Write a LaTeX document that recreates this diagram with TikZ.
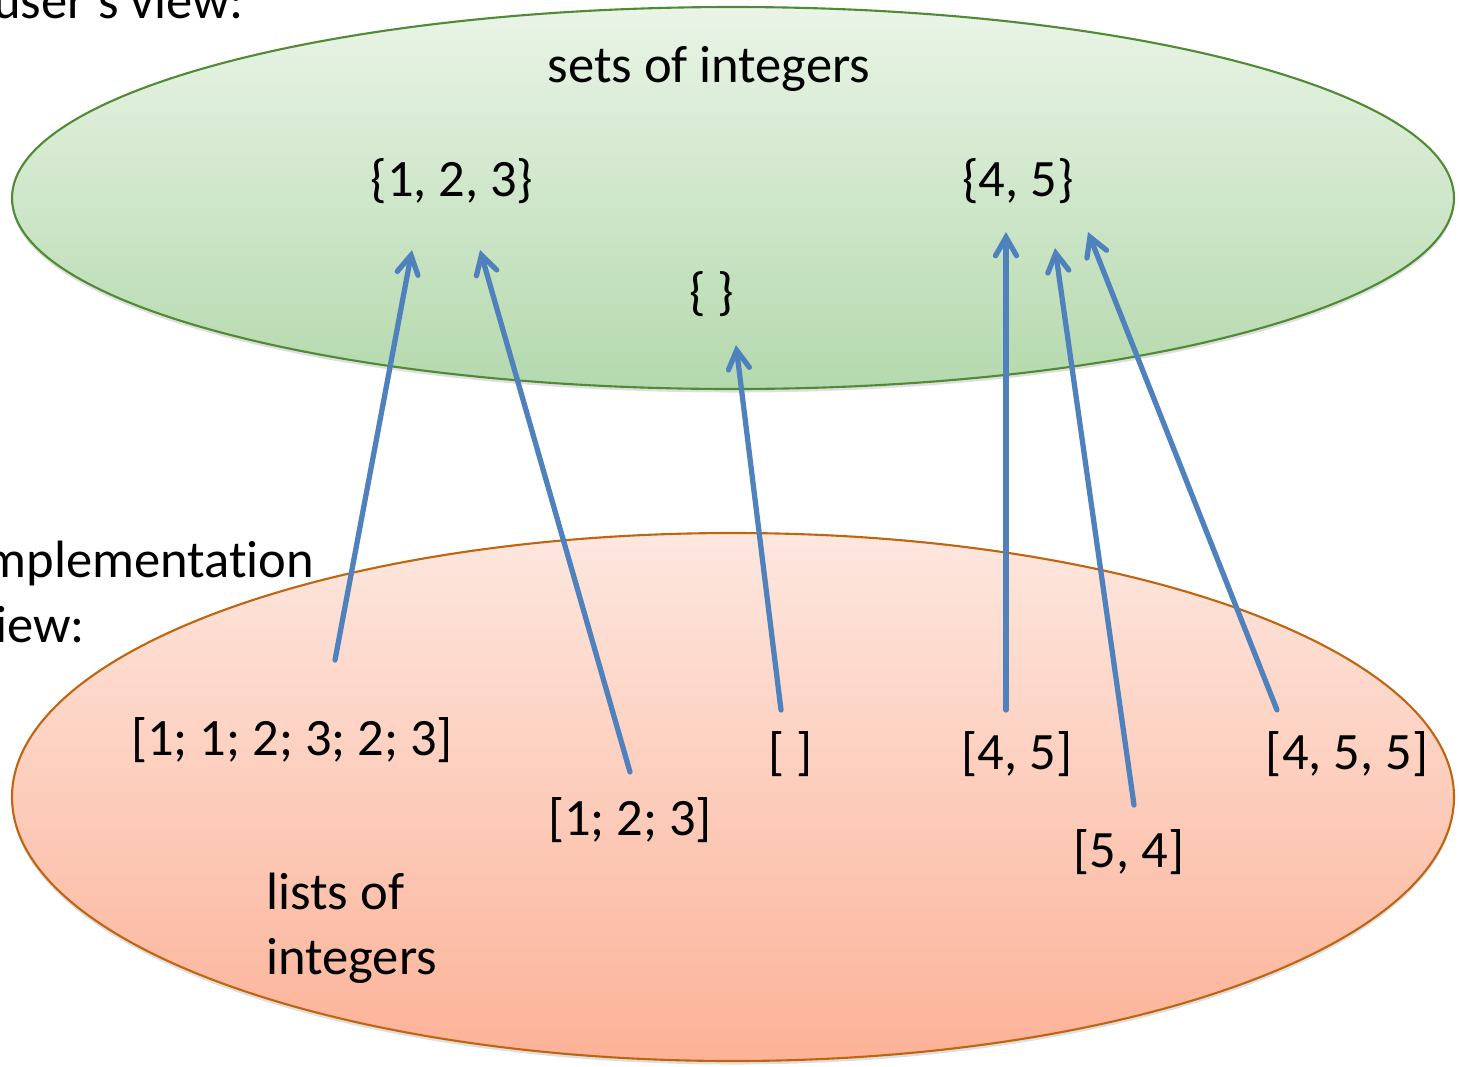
\documentclass[tikz,border=0pt]{standalone}
\usepackage{fontspec}
\setmainfont{Carlito}[Ligatures=NoCommon]
\usetikzlibrary{arrows.meta,shadows}

\begin{document}
\begin{tikzpicture}[x=0.02cm, y=-0.02cm, font=\fontsize{29.9}{36.5}\selectfont]
    \definecolor{setBorder}{HTML}{4F8A34}
    \definecolor{setTop}{HTML}{EAF4E7}
    \definecolor{setBottom}{HTML}{B4D9AD}
    \definecolor{listBorder}{HTML}{C0650E}
    \definecolor{listTop}{HTML}{FDE7DF}
    \definecolor{listBottom}{HTML}{FCB297}
    \definecolor{arrowColour}{HTML}{4F81BD}

    \tikzset{
        mapArrow/.style={draw=arrowColour, line width=3pt, line cap=round,
            -{Straight Barb[length=10.5pt, width=12pt, line cap=round]}},
        blobShadow/.style={drop shadow={shadow xshift=0pt, shadow yshift=-2pt, opacity=0.25}}
    }

    \useasboundingbox (0,0) rectangle (1460,1066);

    % Draw the two views
    \draw[blobShadow, draw=setBorder, line width=1.2pt, top color=setTop, bottom color=setBottom]
        (733,198) ellipse [x radius=721, y radius=191];
    \draw[blobShadow, draw=listBorder, line width=1.2pt, top color=listTop, bottom color=listBottom]
        (733,797) ellipse [x radius=721, y radius=264];

    % Side labels
    \node[anchor=base west, inner sep=0pt] (userView) at (-7,18) {user's view:};
    \node[anchor=base west, inner sep=0pt, align=left] (implView) at (-29,642) {Implementation\\view:};

    % Sets
    \node[anchor=base, inner sep=0pt] (setTitle) at (709,82) {sets of integers};
    \node[anchor=base, inner sep=0pt] (setA) at (452,196) {\{1, 2, 3\}};
    \node[anchor=base, inner sep=0pt] (setB) at (1018,196) {\{4, 5\}};
    \node[anchor=base, inner sep=0pt] (setEmpty) at (712,309) {\{ \}};

    % Lists
    \node[anchor=base, inner sep=0pt] (listA) at (292,755) {[1; 1; 2; 3; 2; 3]};
    \node[anchor=base, inner sep=0pt] (listB) at (630,835) {[1; 2; 3]};
    \node[anchor=base, inner sep=0pt] (listEmpty) at (791,769) {[ ]};
    \node[anchor=base, inner sep=0pt] (listC) at (1017,769) {[4, 5]};
    \node[anchor=base, inner sep=0pt] (listD) at (1129,867) {[5, 4]};
    \node[anchor=base, inner sep=0pt] (listE) at (1347,769) {[4, 5, 5]};
    \node[anchor=base west, inner sep=0pt, align=left] (listTitle) at (266,974) {lists of\\integers};

    % Arrow ends
    \coordinate (tailA) at (335,660);   \coordinate (headA) at (412,250);
    \coordinate (tailB) at (630,772);   \coordinate (headB) at (480,250);
    \coordinate (tailEmpty) at (781,710); \coordinate (headEmpty) at (736,345);
    \coordinate (tailC) at (1006,710);  \coordinate (headC) at (1006,232);
    \coordinate (tailD) at (1134,805);  \coordinate (headD) at (1055,248);
    \coordinate (tailE) at (1277,710);  \coordinate (headE) at (1088,232);

    % Draw the abstraction arrows
    \foreach \l in {A,B,Empty,C,D,E}
        \draw[mapArrow] (tail\l) -- (head\l);

\end{tikzpicture}
\end{document}
